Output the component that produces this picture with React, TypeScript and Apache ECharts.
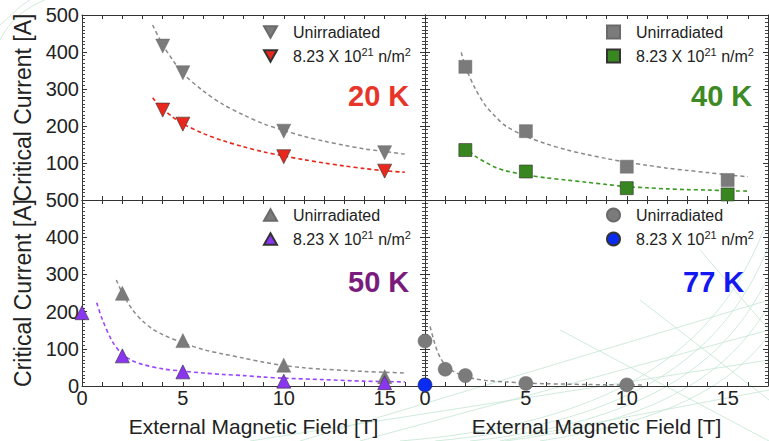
import React, { useEffect, useRef } from 'react';
import * as echarts from 'echarts';

const FONT = '"Liberation Sans", Arial, Helvetica, sans-serif';

const X_MAX = 17;
const Y_MAX = 500;

// 20 K
const field20K = [4, 5, 10, 15];
const unirr20K = [416, 344, 186, 128];
const irr20K = [243, 205, 117, 78];
const fitUnirr20K = [[3.5, 473], [4, 420], [4.5, 378], [5, 342], [6, 295], [7, 258], [8, 230], [9, 206], [10, 188], [11, 172], [12, 159], [13, 148], [14, 138], [15, 131], [16, 124]];
const fitIrr20K = [[3.5, 276], [4, 247], [4.5, 224], [5, 206], [6, 180], [7, 160], [8, 144], [9, 130], [10, 119], [11, 109], [12, 100], [13, 92], [14, 85], [15, 79], [16, 75]];
// 40 K
const field40K = [2, 5, 10, 15];
const unirr40K = [360, 186, 90, 54];
const irr40K = [135, 77, 32, 15];
const fitUnirr40K = [[1.8, 399], [2, 360], [2.5, 300], [3, 255], [3.5, 225], [4, 200], [5, 172], [6, 152], [7, 136], [8, 123], [9, 112], [10, 102], [11, 94], [12, 86], [13, 80], [14, 74], [15, 68], [16, 63]];
const fitIrr40K = [[2.2, 132], [2.5, 118], [3, 102], [3.5, 88], [4, 79], [5, 68], [6, 60], [7, 54], [8, 48], [9, 42], [10, 36], [11, 33], [12, 30], [13, 28], [14, 27], [15, 25], [16, 24]];
// 50 K
const field50KUnirr = [2, 5, 10, 15];
const unirr50K = [249, 122, 56, 25];
const field50KIrr = [0, 2, 5, 10, 15];
const irr50K = [197, 81, 38, 13, 9];
const fitUnirr50K = [[1.7, 285], [2, 250], [2.5, 205], [3, 175], [3.5, 153], [4, 138], [5, 116], [6, 98], [7, 86], [8, 75], [9, 64], [10, 55], [11, 49], [12, 45], [13, 42], [14, 39], [15, 37], [16, 35]];
const fitIrr50K = [[0.73, 224], [1, 180], [1.5, 120], [2, 85], [2.5, 68], [3, 58], [4, 46], [5, 40], [6, 35], [7, 31], [8, 28], [9, 24], [10, 21], [12, 17], [14, 13], [16, 11]];
// 77 K
const field77KUnirr = [0, 1, 2, 5, 10];
const unirr77K = [121, 45, 28, 7, 3];
const field77KIrr = [0];
const irr77K = [3];
const fitUnirr77K = [[0.25, 160], [0.4, 130], [0.6, 95], [0.8, 72], [1, 57], [1.3, 43], [1.6, 34], [2, 26], [2.5, 19], [3, 15], [4, 11], [5, 8], [6, 6], [7, 5], [8, 4], [9, 3.2], [10, 2.8], [10.8, 2.5]];

const GRAY = '#7b7b7b';
const TRI_DOWN = 'path://M0,0 L14,0 L7,12.5 Z';
const TRI_UP = 'path://M7,0 L14,12.5 L0,12.5 Z';

const panels = [
  {
    label: '20 K', labelColor: '#e8352a', color: '#e8281c', lineColor: '#e8281c', symbol: 'triangle', rotate: 180, size: 14, icon: TRI_DOWN,
    uX: field20K, uY: unirr20K, iX: field20K, iY: irr20K, uFit: fitUnirr20K, iFit: fitIrr20K,
    grid: { left: 82, top: 15, width: 343, height: 185 }, legend: { left: 263, top: 22 }, title: { left: 348, top: 81 },
  },
  {
    label: '40 K', labelColor: '#3c8a24', color: '#38861f', lineColor: '#3a9a22', symbol: 'rect', rotate: 0, size: 13, icon: 'rect',
    uX: field40K, uY: unirr40K, iX: field40K, iY: irr40K, uFit: fitUnirr40K, iFit: fitIrr40K,
    grid: { left: 425, top: 15, width: 343, height: 185 }, legend: { left: 606, top: 22 }, title: { left: 691, top: 81 },
  },
  {
    label: '50 K', labelColor: '#7a1c7c', color: '#8a35f0', lineColor: '#9b45ff', symbol: 'triangle', rotate: 0, size: 14, icon: TRI_UP,
    uX: field50KUnirr, uY: unirr50K, iX: field50KIrr, iY: irr50K, uFit: fitUnirr50K, iFit: fitIrr50K,
    grid: { left: 82, top: 200, width: 343, height: 186 }, legend: { left: 263, top: 205 }, title: { left: 348, top: 267 },
  },
  {
    label: '77 K', labelColor: '#1418f0', color: '#0a2cf0', lineColor: GRAY, symbol: 'circle', rotate: 0, size: 14, icon: 'circle',
    uX: field77KUnirr, uY: unirr77K, iX: field77KIrr, iY: irr77K, uFit: fitUnirr77K, iFit: null,
    grid: { left: 425, top: 200, width: 343, height: 186 }, legend: { left: 606, top: 205 }, title: { left: 683, top: 267 },
  },
];

// faint decorative background strokes (not data)
function backgroundGraphics() {
  const els: any[] = [];
  const stroke = { stroke: '#c4e6d3', lineWidth: 0.8, fill: 'none' };
  const curveEnds = [215, 245, 275, 305, 335];
  curveEnds.forEach((ey, k) => {
    els.push({
      type: 'bezierCurve', silent: true, z: -10,
      shape: { x1: 400 + k * 35, y1: 441, cpx1: 600 + k * 10, cpy1: 425, cpx2: 720, cpy2: 360 + k * 10, x2: 769, y2: ey },
      style: stroke,
    });
  });
  const lines = [
    [300, 441, 769, 300], [360, 441, 769, 330], [250, 441, 769, 360], [500, 441, 769, 390],
    [560, 330, 769, 441], [640, 300, 769, 400], [700, 250, 769, 330],
  ];
  lines.forEach(([x1, y1, x2, y2]) => {
    els.push({ type: 'line', silent: true, z: -10, shape: { x1, y1, x2, y2 }, style: stroke });
  });
  els.push({ type: 'bezierCurve', silent: true, z: -10, shape: { x1: 0, y1: 40, cpx1: 10, cpy1: 20, cpx2: 25, cpy2: 8, x2: 45, y2: 0 }, style: stroke });
  els.push({ type: 'bezierCurve', silent: true, z: -10, shape: { x1: 0, y1: 25, cpx1: 12, cpy1: 15, cpx2: 20, cpy2: 5, x2: 30, y2: 0 }, style: stroke });
  return els;
}

function buildOption() {
  const grid: any[] = [];
  const xAxis: any[] = [];
  const yAxis: any[] = [];
  const series: any[] = [];
  const legend: any[] = [];
  const title: any[] = [];

  const axisLine = { show: true, onZero: false, lineStyle: { color: '#333', width: 1 } };

  panels.forEach((p, i) => {
    const isBottom = i >= 2;
    const isLeft = i % 2 === 0;
    grid.push(p.grid);
    const xBase = {
      gridIndex: i, type: 'value', min: 0, max: X_MAX, interval: 1,
      axisLine, splitLine: { show: false },
      axisTick: { show: true, inside: true, length: 4, lineStyle: { color: '#333' } },
    };
    xAxis.push({
      ...xBase, position: 'bottom',
      axisLabel: {
        show: isBottom, margin: 2, fontSize: 20, color: '#222', fontFamily: FONT,
        showMaxLabel: false,
        formatter: (v: number) => (v % 5 === 0 ? String(v) : ''),
      },
      name: isBottom ? 'External Magnetic Field [T]' : '',
      nameLocation: 'middle', nameGap: 30,
      nameTextStyle: { fontSize: 21, color: '#222', fontFamily: FONT },
    });
    xAxis.push({ ...xBase, position: 'top', axisLabel: { show: false } });
    const yBase = {
      gridIndex: i, type: 'value', min: 0, max: Y_MAX, interval: 100,
      axisLine, splitLine: { show: false },
      axisTick: { show: true, inside: true, length: 5, lineStyle: { color: '#333' } },
      minorTick: { show: true, splitNumber: 10, length: 3, lineStyle: { color: '#444' } },
      minorSplitLine: { show: false },
    };
    yAxis.push({
      ...yBase, position: 'left',
      axisLabel: {
        show: isLeft, margin: 3, fontSize: 20, color: '#222', fontFamily: FONT,
        showMinLabel: isBottom,
      },
      name: isLeft ? 'Critical Current [A]' : '',
      nameLocation: 'middle', nameGap: 48,
      nameTextStyle: { fontSize: 23, color: '#222', fontFamily: FONT },
    });
    yAxis.push({ ...yBase, position: 'right', axisLabel: { show: false } });

    const uName = 'Unirradiated ' + p.label;
    const iName = 'Irradiated ' + p.label;
    const xi = 2 * i;
    const yi = 2 * i;

    series.push({
      type: 'line', xAxisIndex: xi, yAxisIndex: yi, data: p.uFit, smooth: 0.3,
      showSymbol: false, silent: true, z: 2,
      lineStyle: { color: '#8a8a8a', width: 1.5, type: [4, 3] },
    });
    if (p.iFit) {
      series.push({
        type: 'line', xAxisIndex: xi, yAxisIndex: yi, data: p.iFit, smooth: 0.3,
        showSymbol: false, silent: true, z: 2,
        lineStyle: { color: p.lineColor, width: 1.6, type: [4, 3] },
      });
    }
    series.push({
      name: uName, type: 'scatter', xAxisIndex: xi, yAxisIndex: yi,
      data: p.uX.map((x, k) => [x, p.uY[k]]),
      symbol: p.symbol, symbolRotate: p.rotate, symbolSize: p.size, z: 5,
      itemStyle: { color: GRAY, borderColor: '#6a6a6a', borderWidth: 0.5, opacity: 1 },
    });
    series.push({
      name: iName, type: 'scatter', xAxisIndex: xi, yAxisIndex: yi,
      data: p.iX.map((x, k) => [x, p.iY[k]]),
      symbol: p.symbol, symbolRotate: p.rotate, symbolSize: p.size, z: 6,
      itemStyle: { color: p.color, borderColor: '#333', borderWidth: 0.6, opacity: 1 },
    });

    legend.push({
      data: [{ name: uName, icon: p.icon }, { name: iName, icon: p.icon }],
      orient: 'vertical', left: p.legend.left, top: p.legend.top,
      padding: 0, itemGap: 4, itemWidth: 13, itemHeight: 13, selectedMode: false,
      formatter: (name: string) => (name.startsWith('Unirr') ? 'Unirradiated' : '8.23 X 10{sup|21} n/m{sup|2}'),
      textStyle: {
        fontSize: 16, color: '#222', fontFamily: FONT, lineHeight: 20, padding: [0, 0, 0, 11],
        rich: { sup: { fontSize: 11, lineHeight: 12, verticalAlign: 'top', color: '#222', fontFamily: FONT } },
      },
    });

    title.push({
      text: p.label, left: p.title.left, top: p.title.top, padding: 0,
      textStyle: { fontSize: 29, fontWeight: 'bold', color: p.labelColor, fontFamily: FONT },
    });
  });

  return { animation: false, backgroundColor: '#ffffff', grid, xAxis, yAxis, series, legend, title, graphic: backgroundGraphics() };
}

export default function App() {
  const ref = useRef<HTMLDivElement>(null);
  useEffect(() => {
    if (!ref.current) return;
    const chart = echarts.init(ref.current, undefined, { renderer: 'svg' });
    chart.setOption(buildOption() as any);
    return () => chart.dispose();
  }, []);
  return <div ref={ref} style={{ position: 'absolute', left: 0, top: 0, width: 769, height: 441 }} />;
}
